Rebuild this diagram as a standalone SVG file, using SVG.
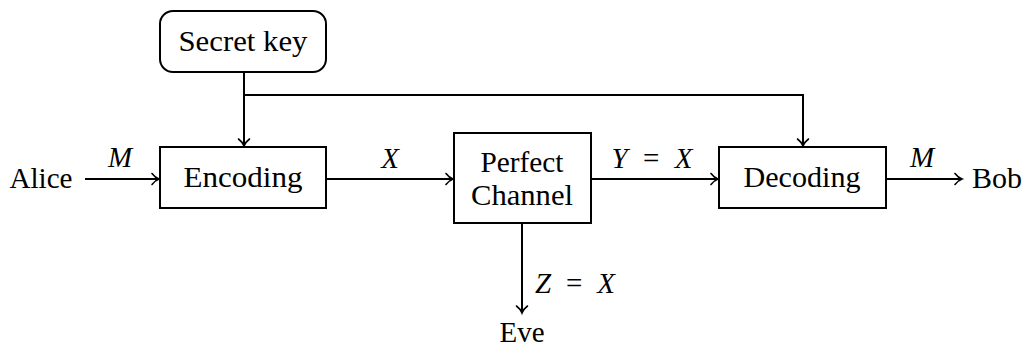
<svg xmlns="http://www.w3.org/2000/svg" width="1028" height="347" viewBox="0 0 1028 347">
<defs>
<style>
.box{fill:#fff;stroke:#000;stroke-width:2}
.c{fill:none;stroke:#000;stroke-width:2}
</style>
<marker id="ar" markerWidth="12" markerHeight="14" refX="9" refY="7" orient="auto" markerUnits="userSpaceOnUse">
<path d="M2 1.5 Q5 5.5 9 7 Q5 8.5 2 12.5" fill="none" stroke="#000" stroke-width="1.6" stroke-linecap="round"/>
</marker>
</defs>
<rect width="1028" height="347" fill="#fff"/>
<g font-family="Liberation Serif, serif" font-size="29" fill="#000" text-anchor="middle">
<g id="connectors">
<path class="c" d="M85 179 H159" marker-end="url(#ar)"/>
<path class="c" d="M244 72 V146" marker-end="url(#ar)"/>
<path class="c" d="M244 95 H803 V146" marker-end="url(#ar)"/>
<path class="c" d="M326 179 H453" marker-end="url(#ar)"/>
<path class="c" d="M591 179 H718" marker-end="url(#ar)"/>
<path class="c" d="M886 179 H962" marker-end="url(#ar)"/>
<path class="c" d="M522 223 V313" marker-end="url(#ar)"/>
<text font-style="italic" x="120" y="167">M</text>
<text font-style="italic" x="390" y="168">X</text>
<text font-style="italic" x="652" y="168" textLength="81" lengthAdjust="spacing">Y <tspan font-style="normal">=</tspan> X</text>
<text font-style="italic" x="922" y="167">M</text>
<text font-style="italic" x="575" y="293" textLength="80" lengthAdjust="spacing">Z <tspan font-style="normal">=</tspan> X</text>
</g>
<g id="secret">
<rect class="box" x="160" y="11" width="166" height="61" rx="13"/>
<text x="243" y="51" textLength="129" lengthAdjust="spacingAndGlyphs">Secret key</text>
</g>
<g id="alice"><text x="41" y="188" textLength="63" lengthAdjust="spacingAndGlyphs">Alice</text></g>
<g id="encoding">
<rect class="box" x="160" y="147" width="166" height="61"/>
<text x="243" y="187" textLength="119" lengthAdjust="spacingAndGlyphs">Encoding</text>
</g>
<g id="channel">
<rect class="box" x="454" y="133" width="137" height="90"/>
<text x="522" y="172" textLength="83" lengthAdjust="spacingAndGlyphs">Perfect</text>
<text x="522" y="205" textLength="102" lengthAdjust="spacingAndGlyphs">Channel</text>
</g>
<g id="decoding">
<rect class="box" x="719" y="147" width="167" height="61"/>
<text x="802" y="187" textLength="117" lengthAdjust="spacingAndGlyphs">Decoding</text>
</g>
<g id="bob"><text x="997" y="188" textLength="50" lengthAdjust="spacingAndGlyphs">Bob</text></g>
<g id="eve"><text x="522" y="342" textLength="45" lengthAdjust="spacingAndGlyphs">Eve</text></g>
</g>
</svg>
